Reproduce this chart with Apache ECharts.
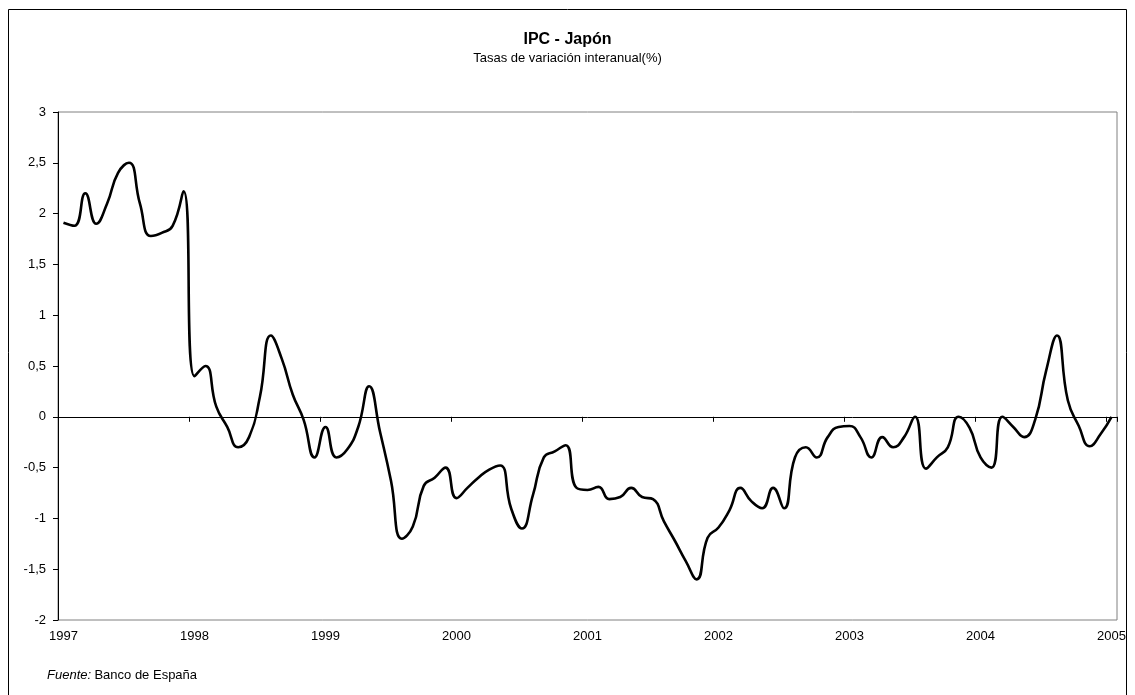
<!DOCTYPE html>
<html>
<head>
<meta charset="utf-8">
<script src="https://cdn.jsdelivr.net/npm/echarts@6/dist/echarts.min.js"></script>
<style>
html,body{margin:0;padding:0;background:#fff;}
#chart{width:1135px;height:695px;}
</style>
</head>
<body>
<div id="chart"></div>
<script>
// Tick labels (one per January)
var yearLabels = ['1997','1998','1999','2000','2001','2002','2003','2004','2005'];

// Monthly values, Jan 1997 .. Jan 2005
var v1997 = [1.91, 1.88, 2.2, 1.9, 2.1, 2.4, 2.5, 2.1, 1.78, 1.81, 1.88, 2.22];
var v1998 = [0.4, 0.5, 0.1, -0.1, -0.3, -0.2, 0.2, 0.8, 0.57, 0.22, -0.03, -0.4];
var v1999 = [-0.1, -0.4, -0.32, -0.1, 0.3, -0.15, -0.63, -1.2, -1.08, -0.68, -0.6, -0.5];
var v2000 = [-0.8, -0.7, -0.6, -0.52, -0.48, -0.9, -1.1, -0.77, -0.4, -0.34, -0.28, -0.7];
var v2001 = [-0.72, -0.69, -0.81, -0.79, -0.7, -0.79, -0.81, -1.03, -1.22, -1.42, -1.6, -1.19];
var v2002 = [-1.09, -0.92, -0.7, -0.83, -0.9, -0.7, -0.9, -0.4, -0.3, -0.4, -0.2, -0.1];
var v2003 = [-0.09, -0.2, -0.4, -0.2, -0.3, -0.2, 0.0, -0.51, -0.4, -0.3, 0.0, -0.11];
var v2004 = [-0.4, -0.5, 0.0, -0.1, -0.2, -0.03, 0.45, 0.8, 0.16, -0.09, -0.29, -0.17];
var v2005 = [0.0];

var values = [].concat(v1997, v1998, v1999, v2000, v2001, v2002, v2003, v2004, v2005);
var categories = values.map(function (_, i) {
  return yearLabels[Math.floor(i / 12)] + '-' + ((i % 12) + 1);
});

var chart = echarts.init(document.getElementById('chart'), null, {renderer: 'canvas'});
var font = '"Liberation Sans", Arial, sans-serif';

chart.setOption({
  backgroundColor: '#ffffff',
  animation: false,
  title: {
    text: 'IPC - Japón',
    subtext: 'Tasas de variación interanual(%)',
    left: 'center',
    top: 27,
    itemGap: 4,
    textStyle: {fontFamily: font, fontSize: 16, fontWeight: 'bold', color: '#000'},
    subtextStyle: {fontFamily: font, fontSize: 13, color: '#000'}
  },
  grid: {
    left: 58, right: 18, top: 112, bottom: 75,
    show: true, borderColor: '#808080', borderWidth: 1, backgroundColor: 'transparent'
  },
  xAxis: [
    {
      type: 'category',
      data: categories,
      boundaryGap: true,
      position: 'bottom',
      axisLine: {onZero: true, lineStyle: {color: '#000', width: 1}},
      axisTick: {show: true, interval: 11, length: 5, lineStyle: {color: '#000'}},
      axisLabel: {show: false},
      splitLine: {show: false}
    },
    {
      type: 'category',
      data: categories,
      boundaryGap: true,
      position: 'bottom',
      axisLine: {show: false, onZero: false},
      axisTick: {show: false},
      axisLabel: {
        show: true, interval: 11, margin: 10,
        fontFamily: font, fontSize: 13, color: '#000',
        formatter: function (val, idx) { return yearLabels[Math.floor(idx / 12)]; }
      },
      splitLine: {show: false}
    }
  ],
  yAxis: {
    type: 'value',
    min: -2, max: 3, interval: 0.5,
    axisLine: {show: true, onZero: false, lineStyle: {color: '#000', width: 1}},
    axisTick: {show: true, length: 5, lineStyle: {color: '#000'}},
    splitLine: {show: false},
    axisLabel: {
      margin: 12, fontFamily: font, fontSize: 13, color: '#000',
      formatter: function (v) { return String(v).replace('.', ','); }
    }
  },
  series: [{
    type: 'line',
    xAxisIndex: 0,
    data: values,
    smooth: 0.5,
    symbol: 'none',
    lineStyle: {color: '#000', width: 2.6}
  }],
  graphic: [
    {
      type: 'rect',
      shape: {x: 8.5, y: 9.5, width: 1118, height: 720},
      style: {fill: 'none', stroke: '#000', lineWidth: 1},
      silent: true
    },
    {
      type: 'text',
      left: 47, top: 669,
      style: {
        text: '{i|Fuente:} {n|Banco de España}',
        rich: {
          i: {fontFamily: font, fontSize: 13, fontStyle: 'italic', fill: '#000'},
          n: {fontFamily: font, fontSize: 13, fill: '#000'}
        }
      }
    }
  ]
});
</script>
</body>
</html>
